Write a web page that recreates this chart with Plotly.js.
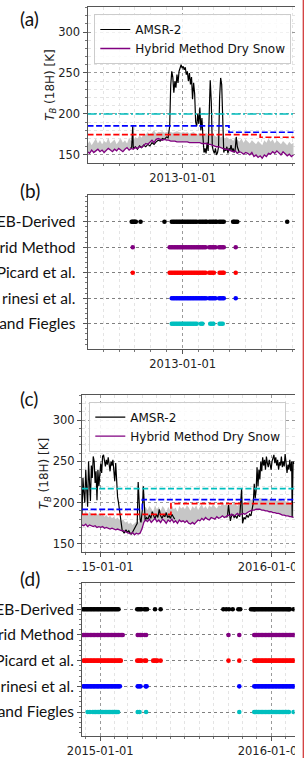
<!DOCTYPE html>
<html><head><meta charset="utf-8">
<script src="https://cdn.plot.ly/plotly-3.0.1.min.js"></script>
<style>html,body{margin:0;padding:0;background:#fff;overflow:hidden}#chart{width:307px;height:758px}</style>
</head><body><div id="chart"></div>
<script>
// ---------------- DATA ----------------
// Panel (a): 2012-07 .. 2013-08
const rangeA = ["2012-07-02", "2013-08-04"];
const seriesStartA = "2012-07-02"; // 4-day sampling
const stepA = 4;
const hybridA = [154,152,156,153,155,157,154,156,153,155,158,156,154,157,155,158,156,154,157,159,156,158,
  157,159,158,160,159,162,
  164,163,166,168,165,169,170,
  169,168,169,168,168,167,167,167,166,166,166,
  166,166,166,165,165,165,165,165,165,164,164,164,
  163,163,162,161,160,160,159,158,157,157,156,
  155,154,155,152,154,153,151,153,152,150,153,
  148,150,147,149,146,150,148,152,
  151,154,152,155,153,150,154,152,149,151,148,150];
const bandUpperA = [163,167,162,166,170,164,168,163,167,165,171,164,166,169,163,167,170,165,168,164,171,167,
  168,172,170,174,171,176,
  175,178,174,177,180,176,178,
  178,179,177,178,179,178,177,178,179,178,177,
  178,177,178,176,177,178,176,175,177,176,174,177,
  175,173,176,174,172,175,171,173,170,172,169,
  170,167,171,168,166,170,165,169,167,164,168,
  166,163,167,164,162,168,165,170,
  166,169,164,168,165,163,167,165,162,166,163,165];
const amsrDatesA = ["2012-09-23","2012-09-25","2012-09-27","2012-09-28","2012-10-02","2012-10-06","2012-10-10","2012-10-14","2012-10-18","2012-10-22","2012-10-26","2012-10-30","2012-11-03","2012-11-07","2012-11-11","2012-11-15","2012-11-19","2012-11-23","2012-11-27","2012-12-01","2012-12-04","2012-12-07","2012-12-09","2012-12-11","2012-12-13","2012-12-15","2012-12-17","2012-12-19","2012-12-21","2012-12-23","2012-12-25","2012-12-27","2012-12-29","2012-12-31","2013-01-02","2013-01-04","2013-01-06","2013-01-08","2013-01-10","2013-01-12","2013-01-14","2013-01-16","2013-01-18","2013-01-20","2013-01-22","2013-01-24","2013-01-26","2013-01-28","2013-01-30","2013-02-01","2013-02-03","2013-02-05","2013-02-07","2013-02-09","2013-02-11","2013-02-13","2013-02-15","2013-02-17","2013-02-19","2013-02-21","2013-02-23","2013-02-25","2013-02-27","2013-03-01","2013-03-03","2013-03-05","2013-03-07","2013-03-09","2013-03-11","2013-03-13","2013-03-15","2013-03-17","2013-03-19","2013-03-21","2013-03-23","2013-03-25","2013-03-27","2013-03-29","2013-03-31","2013-04-02","2013-04-04","2013-04-06","2013-04-08","2013-04-10","2013-04-12","2013-04-14","2013-04-16","2013-04-18","2013-04-20"];
const amsrValsA = [158,160,186,158,
  160,157,161,159,162,160,163,161,
  165,163,166,168,167,170,169,
  172,171,185,235,252,245,226,240,232,248,238,252,255,260,256,
  258,254,257,248,252,240,250,236,245,218,238,225,190,185,200,
  188,208,180,195,172,153,158,152,165,155,200,241,215,160,
  155,152,158,150,153,160,220,244,236,180,153,158,155,160,152,158,
  156,162,155,158,153,157,172,160,155,153];
const cyanThrDatesA = ["2012-07-02","2013-08-04"], cyanThrA = [200, 200];
const blueThrDatesA = ["2012-07-02","2013-03-31","2013-08-04"], blueThrA = [185.5, 177.7, 177.7];
const redThrDatesA = ["2012-07-02","2013-05-30","2013-08-04"], redThrA = [174.8, 171.6, 171.6];

// Panel (c): 2014-11 .. 2016-02
const rangeC = ["2014-11-23", "2016-02-20"];
const seriesStartC = "2014-11-23";
const stepC = 4;
const hybridC = [173,172,174,171,173,172,171,172,170,171,
  170,171,169,170,169,168,169,168,167,168,
  167,166,166,165,164,
  163,162,164,161,163,162,163,
  168,176,
  179,177,180,176,178,181,177,179,176,180,178,175,179,177,180,176,178,175,179,177,178,
  176,178,175,174,176,174,177,179,
  178,181,179,182,180,179,182,181,180,183,181,182,184,182,
  183,185,184,186,184,185,187,185,186,187,186,188,
  189,190,191,191,192,192,192,
  191,191,190,190,189,189,
  188,188,187,187,186,
  185,185,184,184,183,183,182];
const bandUpperC = [188,186,190,185,189,187,184,188,185,187,
  184,186,183,185,182,184,181,183,180,182,
  179,178,180,176,177,
  174,176,173,175,177,176,180,
  186,191,
  195,191,196,193,189,197,192,195,190,196,193,188,195,191,197,192,194,189,196,193,195,
  192,197,194,190,196,193,197,191,
  195,198,193,196,192,197,194,198,195,193,197,196,199,197,
  198,196,199,197,200,198,196,199,197,200,198,201,
  202,203,204,205,205,204,206,
  205,204,205,203,204,205,
  203,204,202,203,204,
  202,203,201,202,200,201,200];
const amsrDatesC = ["2014-11-23","2014-11-25","2014-11-27","2014-11-29","2014-12-01","2014-12-03","2014-12-05","2014-12-07","2014-12-09","2014-12-11","2014-12-13","2014-12-15","2014-12-17","2014-12-19","2014-12-21","2014-12-23","2014-12-25","2014-12-27","2014-12-29","2014-12-31",
  "2015-01-02","2015-01-04","2015-01-06","2015-01-08","2015-01-10","2015-01-12","2015-01-14","2015-01-16","2015-01-18","2015-01-20","2015-01-22","2015-01-24","2015-01-26","2015-01-28","2015-01-30",
  "2015-02-01","2015-02-03","2015-02-05","2015-02-07","2015-02-09","2015-02-11","2015-02-13","2015-02-15","2015-02-17","2015-02-19","2015-02-21","2015-02-25","2015-02-28",
  "2015-03-03","2015-03-06","2015-03-09","2015-03-12","2015-03-15","2015-03-18","2015-03-21","2015-03-23","2015-03-25","2015-03-27","2015-03-29",
  "2015-04-01","2015-04-03","2015-04-05","2015-04-07","2015-04-10","2015-04-13","2015-04-16","2015-04-19","2015-04-22","2015-04-25","2015-04-28",
  "2015-05-01","2015-05-04","2015-05-07","2015-05-10","2015-05-13","2015-05-16","2015-05-19","2015-05-22","2015-05-25","2015-05-28","2015-05-31",
  "2015-06-03","2015-06-06","2015-06-09",
  "2015-07-15",
  "2015-09-28","2015-09-30",
  "2015-10-02","2015-10-04","2015-10-06","2015-10-08","2015-10-11","2015-10-14","2015-10-17","2015-10-20","2015-10-23","2015-10-26","2015-10-28","2015-10-30",
  "2015-11-01","2015-11-04","2015-11-07","2015-11-10","2015-11-13","2015-11-16","2015-11-19","2015-11-22","2015-11-24","2015-11-26","2015-11-28","2015-11-30",
  "2015-12-02","2015-12-04","2015-12-06","2015-12-08","2015-12-10","2015-12-12","2015-12-14","2015-12-16","2015-12-18","2015-12-20","2015-12-22","2015-12-24","2015-12-26","2015-12-28","2015-12-30",
  "2016-01-01","2016-01-03","2016-01-05","2016-01-07","2016-01-09","2016-01-11","2016-01-13","2016-01-15","2016-01-17","2016-01-19","2016-01-21","2016-01-23","2016-01-25","2016-01-27","2016-01-29","2016-01-31",
  "2016-02-02","2016-02-04","2016-02-06","2016-02-08","2016-02-10","2016-02-12","2016-02-14","2016-02-15","2016-02-17","2016-02-19"];
const amsrValsC = [186,230,212,200,240,215,195,250,225,202,245,230,256,250,224,238,203,240,220,232,
  247,236,256,258,250,244,252,246,255,248,238,250,245,252,242,
  226,248,220,207,200,190,178,172,166,165,163,167,164,
  166,163,162,165,168,172,175,225,200,180,176,
  192,220,205,178,182,180,185,181,189,183,180,
  186,182,192,184,181,185,183,188,182,184,181,
  186,183,180,
  null,
  182,185,
  197,190,178,183,186,182,184,181,186,183,200,217,
  175,182,180,185,182,186,184,195,200,223,205,215,
  243,220,240,228,250,238,255,245,252,240,256,248,243,252,246,
  240,250,255,258,248,255,245,252,240,249,245,256,243,250,244,259,
  248,236,246,240,252,238,250,182,250,247];
const cyanThrDatesC = ["2014-11-23","2016-02-20"], cyanThrC = [217, 217];
const blueThrDatesC = ["2014-11-23","2015-04-01","2016-02-20"], blueThrC = [191.8, 203.6, 203.6];
const redThrDatesC = ["2014-11-23","2015-06-01","2016-02-20"], redThrC = [185.7, 198.8, 198.8];

// Method rows (bottom -> top) and their visible (cropped) labels
const methodRows = [0, 1, 2, 3, 4];
const methodLabels = ["and Fiegles", "rinesi et al.", "Picard et al.", "rid Method", "EB-Derived"];

// Panel (b) detection dates
const denseB1 = ["2012-12-07","2012-12-10","2012-12-13","2012-12-16","2012-12-19","2012-12-22","2012-12-25","2012-12-28","2012-12-31","2013-01-03","2013-01-06","2013-01-09","2013-01-12","2013-01-15","2013-01-18","2013-01-21","2013-01-24","2013-01-27","2013-01-30","2013-02-02","2013-02-05","2013-02-08","2013-02-11","2013-02-14"];
const denseB2 = ["2012-12-11","2012-12-14","2012-12-17","2012-12-20","2012-12-23","2012-12-26","2012-12-29","2013-01-01","2013-01-04","2013-01-07","2013-01-10","2013-01-13","2013-01-16","2013-01-19","2013-01-22","2013-01-25","2013-01-28"];
const sebB = ["2012-09-25","2012-09-27","2012-09-29","2012-10-01","2012-10-03","2012-10-12","2012-11-27"].concat(denseB2,
  ["2013-02-02","2013-02-05","2013-02-08","2013-02-11","2013-02-14","2013-02-16","2013-02-21","2013-02-24","2013-02-27","2013-03-02","2013-03-05","2013-03-07","2013-03-12","2013-03-15","2013-03-18","2013-03-21","2013-04-08","2013-04-10","2013-04-13","2013-04-16","2013-07-21"]);
const hybB = ["2012-09-27"].concat(denseB1, ["2013-02-21","2013-02-24","2013-02-27","2013-03-02","2013-03-05","2013-03-12","2013-03-15","2013-03-18","2013-03-21","2013-04-13"]);
const picB = ["2012-09-27"].concat(denseB1, ["2013-02-21","2013-02-24","2013-02-27","2013-03-02","2013-03-13","2013-03-16","2013-03-19","2013-03-21","2013-04-13"]);
const marB = denseB2.concat(["2013-01-31","2013-02-03","2013-02-06","2013-02-09","2013-02-12","2013-02-15","2013-02-21","2013-02-24","2013-02-27","2013-03-02","2013-03-05","2013-03-12","2013-03-15","2013-03-18","2013-03-21","2013-04-13"]);
const fieB = denseB2.concat(["2013-02-05","2013-02-08","2013-02-23","2013-02-26","2013-03-01","2013-03-13","2013-03-16","2013-03-19"]);

// Panel (d) detection dates
const denseD1 = ["2014-11-26","2014-11-29","2014-12-02","2014-12-05","2014-12-08","2014-12-11","2014-12-14","2014-12-17","2014-12-20","2014-12-23","2014-12-26","2014-12-29","2015-01-01","2015-01-04","2015-01-07","2015-01-10","2015-01-13","2015-01-16","2015-01-19","2015-01-22","2015-01-25","2015-01-28","2015-01-31","2015-02-03","2015-02-06","2015-02-09"];
const denseD2 = ["2015-11-26","2015-11-29","2015-12-02","2015-12-05","2015-12-08","2015-12-11","2015-12-14","2015-12-17","2015-12-20","2015-12-23","2015-12-26","2015-12-29","2016-01-01","2016-01-04","2016-01-07","2016-01-10","2016-01-13","2016-01-16","2016-01-19","2016-01-22","2016-01-25","2016-01-28","2016-01-31","2016-02-03","2016-02-06"];
const sebD = denseD1.concat(["2015-03-21","2015-03-24","2015-03-27","2015-03-30","2015-04-05","2015-04-08","2015-04-11","2015-04-28","2015-05-10",
  "2015-09-21","2015-09-27","2015-10-03","2015-10-11","2015-10-23","2015-10-27","2015-11-19","2015-11-22","2015-11-25"], denseD2, ["2016-02-08","2016-02-10","2016-02-18"]);
const hybD = denseD1.concat(["2015-02-12","2015-02-15","2015-02-18","2015-03-22","2015-03-25","2015-03-28","2015-03-31","2015-04-06","2015-04-09","2015-10-02","2015-10-25"], denseD2, ["2016-02-09","2016-02-12","2016-02-15","2016-02-18","2016-02-20"]);
const picD = denseD1.concat(["2015-02-12","2015-02-14","2015-03-21","2015-03-24","2015-03-27","2015-03-30","2015-04-06","2015-04-09","2015-04-24","2015-04-27","2015-04-30","2015-05-03","2015-05-10","2015-10-02","2015-10-25"], denseD2, ["2016-02-09","2016-02-12","2016-02-15","2016-02-18","2016-02-20"]);
const marD = denseD1.concat(["2015-02-12","2015-03-22","2015-03-25","2015-03-28","2015-04-08","2015-04-10","2015-10-25"], denseD2, ["2016-02-09","2016-02-12","2016-02-15","2016-02-18","2016-02-20"]);
const fieD = ["2014-12-05","2014-12-10","2014-12-16","2014-12-19","2014-12-22","2014-12-25","2014-12-28","2014-12-31","2015-01-03","2015-01-06","2015-01-09","2015-01-12","2015-01-15","2015-01-18","2015-01-21","2015-01-24","2015-01-27","2015-01-30","2015-02-02","2015-02-05","2015-02-08",
  "2015-03-22","2015-03-26","2015-04-09","2015-10-25"].concat(denseD2, ["2016-02-08","2016-02-18"]);

// ---------------- BUILD ----------------
function seqDates(start, step, n) {
  const t0 = Date.parse(start + "T00:00:00Z"), out = [];
  for (let i = 0; i < n; i++) out.push(new Date(t0 + i * step * 86400000).toISOString().slice(0, 10));
  return out;
}
const datesA = seqDates(seriesStartA, stepA, hybridA.length);
const datesC = seqDates(seriesStartC, stepC, hybridC.length);

const W = 307, H = 758;
const TB = '<i>T</i><sub><i>B</i></sub> (18H) [K]';
const COL = {black: '#000000', purple: '#800080', red: '#ff0000', blue: '#0000ff', cyan: '#00bfbf', band: '#c6c6c6'};
const tickFont = {family: 'DejaVu Sans, sans-serif', size: 11.5, color: '#222'};

function tsTraces(xa, ya, dates, hyb, up, aDates, aVals, thr, legendName, cyanDash) {
  return [
    {x: dates, y: hyb, xaxis: xa, yaxis: ya, mode: 'lines', line: {width: 0, color: 'rgba(0,0,0,0)'}, showlegend: false, hoverinfo: 'skip'},
    {x: dates, y: up, xaxis: xa, yaxis: ya, mode: 'lines', fill: 'tonexty', fillcolor: COL.band, line: {width: 0, color: COL.band}, showlegend: false, hoverinfo: 'skip'},
    {x: aDates, y: aVals, xaxis: xa, yaxis: ya, mode: 'lines', name: 'AMSR-2', line: {color: COL.black, width: 1.2}, legend: legendName},
    {x: dates, y: hyb, xaxis: xa, yaxis: ya, mode: 'lines', name: 'Hybrid Method Dry Snow', line: {color: COL.purple, width: 1.3}, legend: legendName},
    {x: thr[0], y: thr[1], xaxis: xa, yaxis: ya, mode: 'lines', line: {color: COL.cyan, width: 1.7, dash: cyanDash}, showlegend: false},
    {x: thr[2], y: thr[3], xaxis: xa, yaxis: ya, mode: 'lines', line: {color: COL.blue, width: 1.7, dash: '6px,2.6px', shape: 'hv'}, showlegend: false},
    {x: thr[4], y: thr[5], xaxis: xa, yaxis: ya, mode: 'lines', line: {color: COL.red, width: 1.7, dash: '6px,2.6px', shape: 'hv'}, showlegend: false}
  ];
}
function dotTraces(xa, ya, sets, size) {
  return sets.map(([d, row, c]) => ({x: d, y: d.map(() => methodRows[row]), xaxis: xa, yaxis: ya, mode: 'markers',
    marker: {color: c, size: size, line: {width: 0}}, showlegend: false}));
}

const data = [].concat(
  tsTraces('x', 'y', datesA, hybridA, bandUpperA, amsrDatesA, amsrValsA,
    [cyanThrDatesA, cyanThrA, blueThrDatesA, blueThrA, redThrDatesA, redThrA], 'legend', '9px,2.5px,2px,2.5px'),
  dotTraces('x2', 'y2', [[sebB, 4, COL.black], [hybB, 3, COL.purple], [picB, 2, COL.red], [marB, 1, COL.blue], [fieB, 0, COL.cyan]], 4.6),
  tsTraces('x3', 'y3', datesC, hybridC, bandUpperC, amsrDatesC, amsrValsC,
    [cyanThrDatesC, cyanThrC, blueThrDatesC, blueThrC, redThrDatesC, redThrC], 'legend2', '6px,2.6px'),
  dotTraces('x4', 'y4', [[sebD, 4, COL.black], [hybD, 3, COL.purple], [picD, 2, COL.red], [marD, 1, COL.blue], [fieD, 0, COL.cyan]], 4.6)
);

function xAxis(dom, anchor, range, tick0) {
  return {domain: dom, anchor: anchor, type: 'date', range: range, tick0: tick0, dtick: 'M12', tickformat: '%Y-%m-%d',
    ticks: 'outside', ticklen: 4, tickcolor: '#555', tickfont: tickFont,
    showgrid: true, gridcolor: '#9a9a9a', griddash: 'dot', gridwidth: 1,
    minor: {dtick: 'M1', tick0: tick0, ticks: 'outside', ticklen: 2, tickcolor: '#777', showgrid: true, gridcolor: '#e4e4e4', gridwidth: 1},
    showline: true, linecolor: '#555', linewidth: 1, mirror: true, zeroline: false, automargin: false, fixedrange: true};
}
function yTsAxis(dom, anchor) {
  return {domain: dom, anchor: anchor, range: [140.2, 330.5], tick0: 0, dtick: 50,
    ticks: 'outside', ticklen: 4, tickcolor: '#555', tickfont: tickFont,
    showgrid: true, gridcolor: '#9a9a9a', griddash: 'dot',
    minor: {tick0: 0, dtick: 10, ticks: 'outside', ticklen: 2, tickcolor: '#777', showgrid: true, gridcolor: '#e4e4e4'},
    showline: true, linecolor: '#555', mirror: false, zeroline: false, automargin: false,
    title: {text: TB, font: {family: 'DejaVu Sans, sans-serif', size: 12, color: '#222'}, standoff: 0}};
}
function yDotAxis(dom, anchor, range, standoff) {
  return {domain: dom, anchor: anchor, range: range, tickmode: 'array', tickvals: methodRows, ticktext: methodLabels,
    ticks: 'outside', ticklen: 4, tickcolor: '#555', ticklabelstandoff: standoff,
    tickfont: {family: 'Lato, sans-serif', size: 15.5, color: '#111'},
    showgrid: true, gridcolor: '#808080', griddash: 'dot',
    minor: {tickmode: 'linear', tick0: -1, dtick: 0.2, ticks: 'outside', ticklen: 2, tickcolor: '#777', showgrid: false},
    showline: true, linecolor: '#555', mirror: false, zeroline: false, automargin: false};
}
const xdA = [87.5 / W, 294.5 / W], xdC = [82 / W, 294.5 / W];
const yd = (top, bot) => [1 - bot / H, 1 - top / H];

const legendCommon = {xanchor: 'left', yanchor: 'top', traceorder: 'normal', bgcolor: 'rgba(255,255,255,0.85)', bordercolor: '#cccccc', borderwidth: 1,
  font: {family: 'DejaVu Sans, sans-serif', size: 12, color: '#111'}};

const panelLabel = (t, x, y) => ({text: t, x: x / W, y: 1 - y / H, xref: 'paper', yref: 'paper', showarrow: false,
  xanchor: 'center', yanchor: 'middle', font: {family: 'Lato, sans-serif', size: 19, color: '#111'}});

const layout = {
  width: W, height: H, margin: {l: 0, r: 0, t: 0, b: 0}, paper_bgcolor: '#fff', plot_bgcolor: '#fff', showlegend: true,
  xaxis: xAxis(xdA, 'y', rangeA, '2013-01-01'),
  yaxis: yTsAxis(yd(7, 163), 'x'),
  xaxis2: xAxis(xdA, 'y2', rangeA, '2013-01-01'),
  yaxis2: yDotAxis(yd(195, 349), 'x2', [-0.99, 5.05], 4),
  xaxis3: xAxis(xdC, 'y3', rangeC, '2015-01-01'),
  yaxis3: yTsAxis(yd(395, 552), 'x3'),
  xaxis4: xAxis(xdC, 'y4', rangeC, '2015-01-01'),
  yaxis4: yDotAxis(yd(583, 735.7), 'x4', [-0.92, 5.02], 1.5),
  legend: Object.assign({x: 94.3 / W, y: 1 - 14 / H}, legendCommon),
  legend2: Object.assign({x: 89.3 / W, y: 1 - 401.7 / H}, legendCommon),
  annotations: [panelLabel('(a)', 29, 18), panelLabel('(b)', 30, 190), panelLabel('(c)', 29, 398), panelLabel('(d)', 30, 578)],
  shapes: [
    {type: 'rect', xref: 'paper', yref: 'paper', x0: 295 / W, x1: 1, y0: 0, y1: 1, fillcolor: '#fff', line: {width: 0}, layer: 'above'},
    {type: 'rect', xref: 'paper', yref: 'paper', x0: 58 / W, x1: 81.3 / W, y0: 1 - 570 / H, y1: 1 - 558.5 / H, fillcolor: '#fff', line: {width: 0}, layer: 'above'},
    {type: 'line', xref: 'paper', yref: 'paper', x0: 303.3 / W, x1: 303.3 / W, y0: 0, y1: 1, line: {color: '#d23c3c', width: 1.3}, layer: 'above'}
  ]
};
Plotly.newPlot('chart', data, layout, {staticPlot: true, displayModeBar: false});
</script></body></html>
